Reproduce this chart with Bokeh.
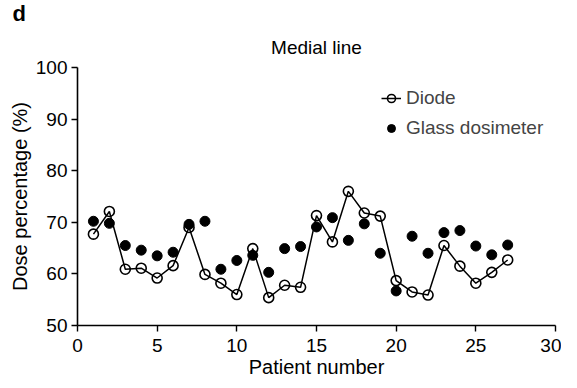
from bokeh.plotting import figure
from bokeh.models import (Range1d, FixedTicker, Legend, LegendItem, Title,
                          ColumnDataSource)
from bokeh.embed import file_html
from bokeh.resources import INLINE

# ---- data ----
patients = list(range(1, 28))
diode = [67.7, 72.1, 60.9, 61.1, 59.2, 61.6, 69.0, 59.9, 58.2, 56.0,
         64.9, 55.4, 57.8, 57.4, 71.3, 66.2, 76.0, 71.8, 71.2, 58.7,
         56.5, 55.9, 65.5, 61.5, 58.2, 60.3, 62.7]
glass = [70.2, 69.8, 65.5, 64.6, 63.5, 64.2, 69.6, 70.2, 60.9, 62.6,
         63.6, 60.3, 64.9, 65.3, 69.1, 70.9, 66.5, 69.7, 64.0, 56.7,
         67.3, 64.0, 68.0, 68.4, 65.4, 63.7, 65.6]
x_ticks = [0, 5, 10, 15, 20, 25, 30]
y_ticks = [50, 60, 70, 80, 90, 100]
title_text = "Medial line"
panel_letter = "d"
x_label = "Patient number"
y_label = "Dose percentage (%)"
series_names = ["Diode", "Glass dosimeter"]

FONT = "Liberation Sans"

p = figure(width=561, height=380, output_backend="svg",
           toolbar_location=None,
           x_range=Range1d(0, 30), y_range=Range1d(50, 100),
           min_border_left=77, min_border_right=6,
           min_border_top=66, min_border_bottom=54)
p.outline_line_color = None
p.xgrid.visible = False
p.ygrid.visible = False
p.background_fill_color = "white"
p.border_fill_color = "white"

src_d = ColumnDataSource(dict(x=patients, y=diode))
src_g = ColumnDataSource(dict(x=patients, y=glass))

r_line = p.line("x", "y", source=src_d, line_color="black", line_width=1.5)
r_open = p.scatter("x", "y", source=src_d, marker="circle", size=10,
                   fill_color=None, line_color="black", line_width=1.6)
r_fill = p.scatter("x", "y", source=src_g, marker="circle", size=10,
                   fill_color="black", line_color="black")

for ax in (p.xaxis[0], p.yaxis[0]):
    ax.axis_line_width = 1.6
    ax.axis_line_color = "black"
    ax.major_tick_line_color = "black"
    ax.major_tick_line_width = 1.4
    ax.major_tick_in = 0
    ax.major_tick_out = 6
    ax.minor_tick_line_color = None
    ax.major_label_text_font = FONT
    ax.major_label_text_font_size = "19px"
    ax.major_label_text_color = "black"
    ax.axis_label_text_font = FONT
    ax.axis_label_text_font_size = "20px"
    ax.axis_label_text_font_style = "normal"
    ax.axis_label_text_color = "black"

p.xaxis[0].ticker = FixedTicker(ticks=x_ticks)
p.yaxis[0].ticker = FixedTicker(ticks=y_ticks)
p.xaxis[0].axis_label = x_label
p.yaxis[0].axis_label = y_label
p.xaxis[0].major_label_standoff = 7
p.yaxis[0].major_label_standoff = 4
p.xaxis[0].axis_label_standoff = 1
p.yaxis[0].axis_label_standoff = 2

legend = Legend(items=[LegendItem(label=series_names[0], renderers=[r_line, r_open]),
                       LegendItem(label=series_names[1], renderers=[r_fill])],
                location=(304, 186), padding=0, margin=0, spacing=8,
                label_height=20, glyph_height=20, glyph_width=20,
                label_standoff=5, border_line_color=None,
                background_fill_alpha=0,
                label_text_font=FONT, label_text_font_size="19px")
p.add_layout(legend, "center")

p.add_layout(Title(text=title_text, align="center", text_font=FONT,
                   text_font_size="19px", text_font_style="normal",
                   text_color="black", standoff=20), "above")
p.add_layout(Title(text=panel_letter, align="left", offset=-65, text_font=FONT,
                   text_font_size="22px", text_font_style="bold",
                   text_color="black", standoff=-3), "above")

open("out.html", "w").write(file_html(p, INLINE))
